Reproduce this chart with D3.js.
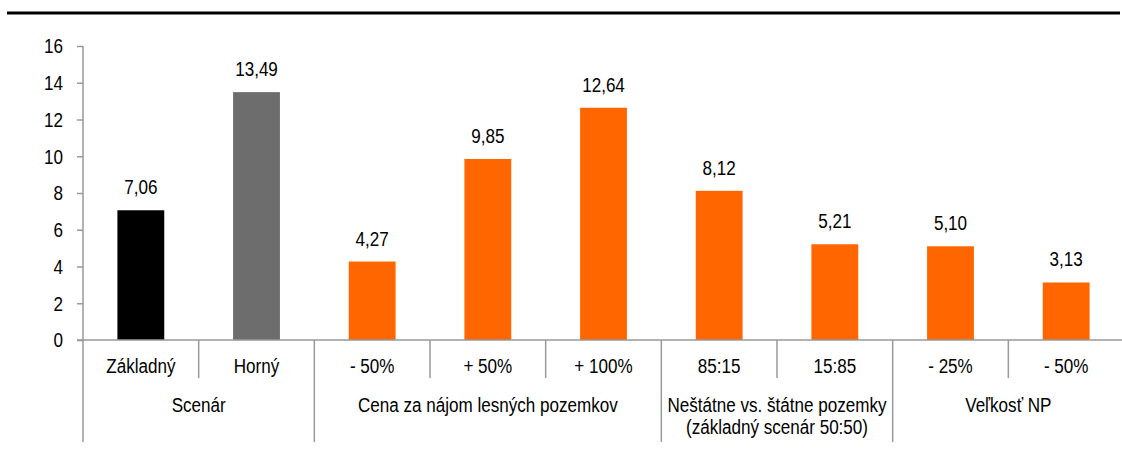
<!DOCTYPE html>
<html>
<head>
<meta charset="utf-8">
<script src="https://cdn.jsdelivr.net/npm/d3@7"></script>
<style>
  body { margin: 0; background: #fff; }
  text { font-family: "Liberation Sans", Arial, sans-serif; fill: #000; }
</style>
</head>
<body>
<svg width="1122" height="458"></svg>
<script>
const categories = ["Základný", "Horný", "- 50%", "+ 50%", "+ 100%", "85:15", "15:85", "- 25%", "- 50%"];
const values = [7.06, 13.49, 4.27, 9.85, 12.64, 8.12, 5.21, 5.10, 3.13];
const groups = [
  { name: ["Scenár"], size: 2 },
  { name: ["Cena za nájom lesných pozemkov"], size: 3 },
  { name: ["Neštátne vs. štátne pozemky", "(základný scenár 50:50)"], size: 2 },
  { name: ["Veľkosť NP"], size: 2 }
];
const yTicks = [0, 2, 4, 6, 8, 10, 12, 14, 16];
const barColors = ["#000000", "#6d6d6d", "#ff6600", "#ff6600", "#ff6600", "#ff6600", "#ff6600", "#ff6600", "#ff6600"];

const svg = d3.select("svg");
const plotLeft = 83, plotRight = 1124, plotTop = 46, plotBottom = 340;
const axisColor = "#999";
const fs = 19.5;
const sx = 0.875; // the original font is narrower than Liberation Sans

// narrow text placed at (x, y)
function label(sel, xv, yv) {
  return sel.attr("x", 0).attr("y", 0)
    .attr("transform", (d, i) => `translate(${typeof xv === "function" ? xv(d, i) : xv},${typeof yv === "function" ? yv(d, i) : yv}) scale(${sx},1)`)
    .attr("font-size", fs);
}

// rule at the top
svg.append("line").attr("x1", 7).attr("x2", 1120).attr("y1", 13).attr("y2", 13)
  .attr("stroke", "#000").attr("stroke-width", 3);

const x = d3.scaleBand().domain(d3.range(categories.length)).range([plotLeft, plotRight]).paddingInner(0).paddingOuter(0);
const y = d3.scaleLinear().domain([0, 16]).range([plotBottom, plotTop]);
const bw = x.bandwidth() * 0.405;

// y axis
const yAxis = svg.append("g").attr("transform", `translate(${plotLeft},0)`)
  .call(d3.axisLeft(y).tickValues(yTicks).tickSize(6).tickFormat(d3.format("d")));
yAxis.select(".domain").remove();
yAxis.selectAll(".tick line").attr("stroke", axisColor).attr("stroke-width", 1.5);
label(yAxis.selectAll(".tick text"), -20, 0)
  .attr("dy", "0.35em").attr("font-family", null).attr("fill", "#000");
svg.append("line").attr("x1", plotLeft).attr("x2", plotLeft).attr("y1", plotTop).attr("y2", 442)
  .attr("stroke", axisColor).attr("stroke-width", 1.5);

// bars
svg.selectAll(".bar").data(values).join("rect").attr("class", "bar")
  .attr("x", (d, i) => x(i) + (x.bandwidth() - bw) / 2)
  .attr("width", bw)
  .attr("y", d => y(d))
  .attr("height", d => y(0) - y(d))
  .attr("fill", (d, i) => barColors[i]);

label(svg.selectAll(".val").data(values).join("text").attr("class", "val"),
    (d, i) => x(i) + x.bandwidth() / 2, d => y(d) - 16)
  .attr("text-anchor", "middle")
  .text(d => d3.format(".2f")(d).replace(".", ","));

// x axis line
svg.append("line").attr("x1", plotLeft - 6).attr("x2", 1122).attr("y1", plotBottom).attr("y2", plotBottom)
  .attr("stroke", axisColor).attr("stroke-width", 1.5);

// category labels
label(svg.selectAll(".cat").data(categories).join("text").attr("class", "cat"),
    (d, i) => x(i) + x.bandwidth() / 2, 373)
  .attr("text-anchor", "middle")
  .text(d => d);

// separators
let start = 0;
const groupStarts = [];
groups.forEach(g => { groupStarts.push(start); start += g.size; });
d3.range(1, categories.length).forEach(i => {
  const isGroup = groupStarts.includes(i);
  const xx = x(i);
  svg.append("line").attr("x1", xx).attr("x2", xx).attr("y1", plotBottom)
    .attr("y2", isGroup ? 442 : 378)
    .attr("stroke", axisColor).attr("stroke-width", 1.5);
});

// group labels
groups.forEach((g, gi) => {
  const s = groupStarts[gi];
  const cx = (x(s) + x(s + g.size - 1) + x.bandwidth()) / 2;
  const t = label(svg.append("text"), cx, 412).attr("text-anchor", "middle");
  g.name.forEach((line, li) => {
    t.append("tspan").attr("x", 0).attr("dy", li === 0 ? 0 : 22.5).text(line);
  });
});
</script>
</body>
</html>
